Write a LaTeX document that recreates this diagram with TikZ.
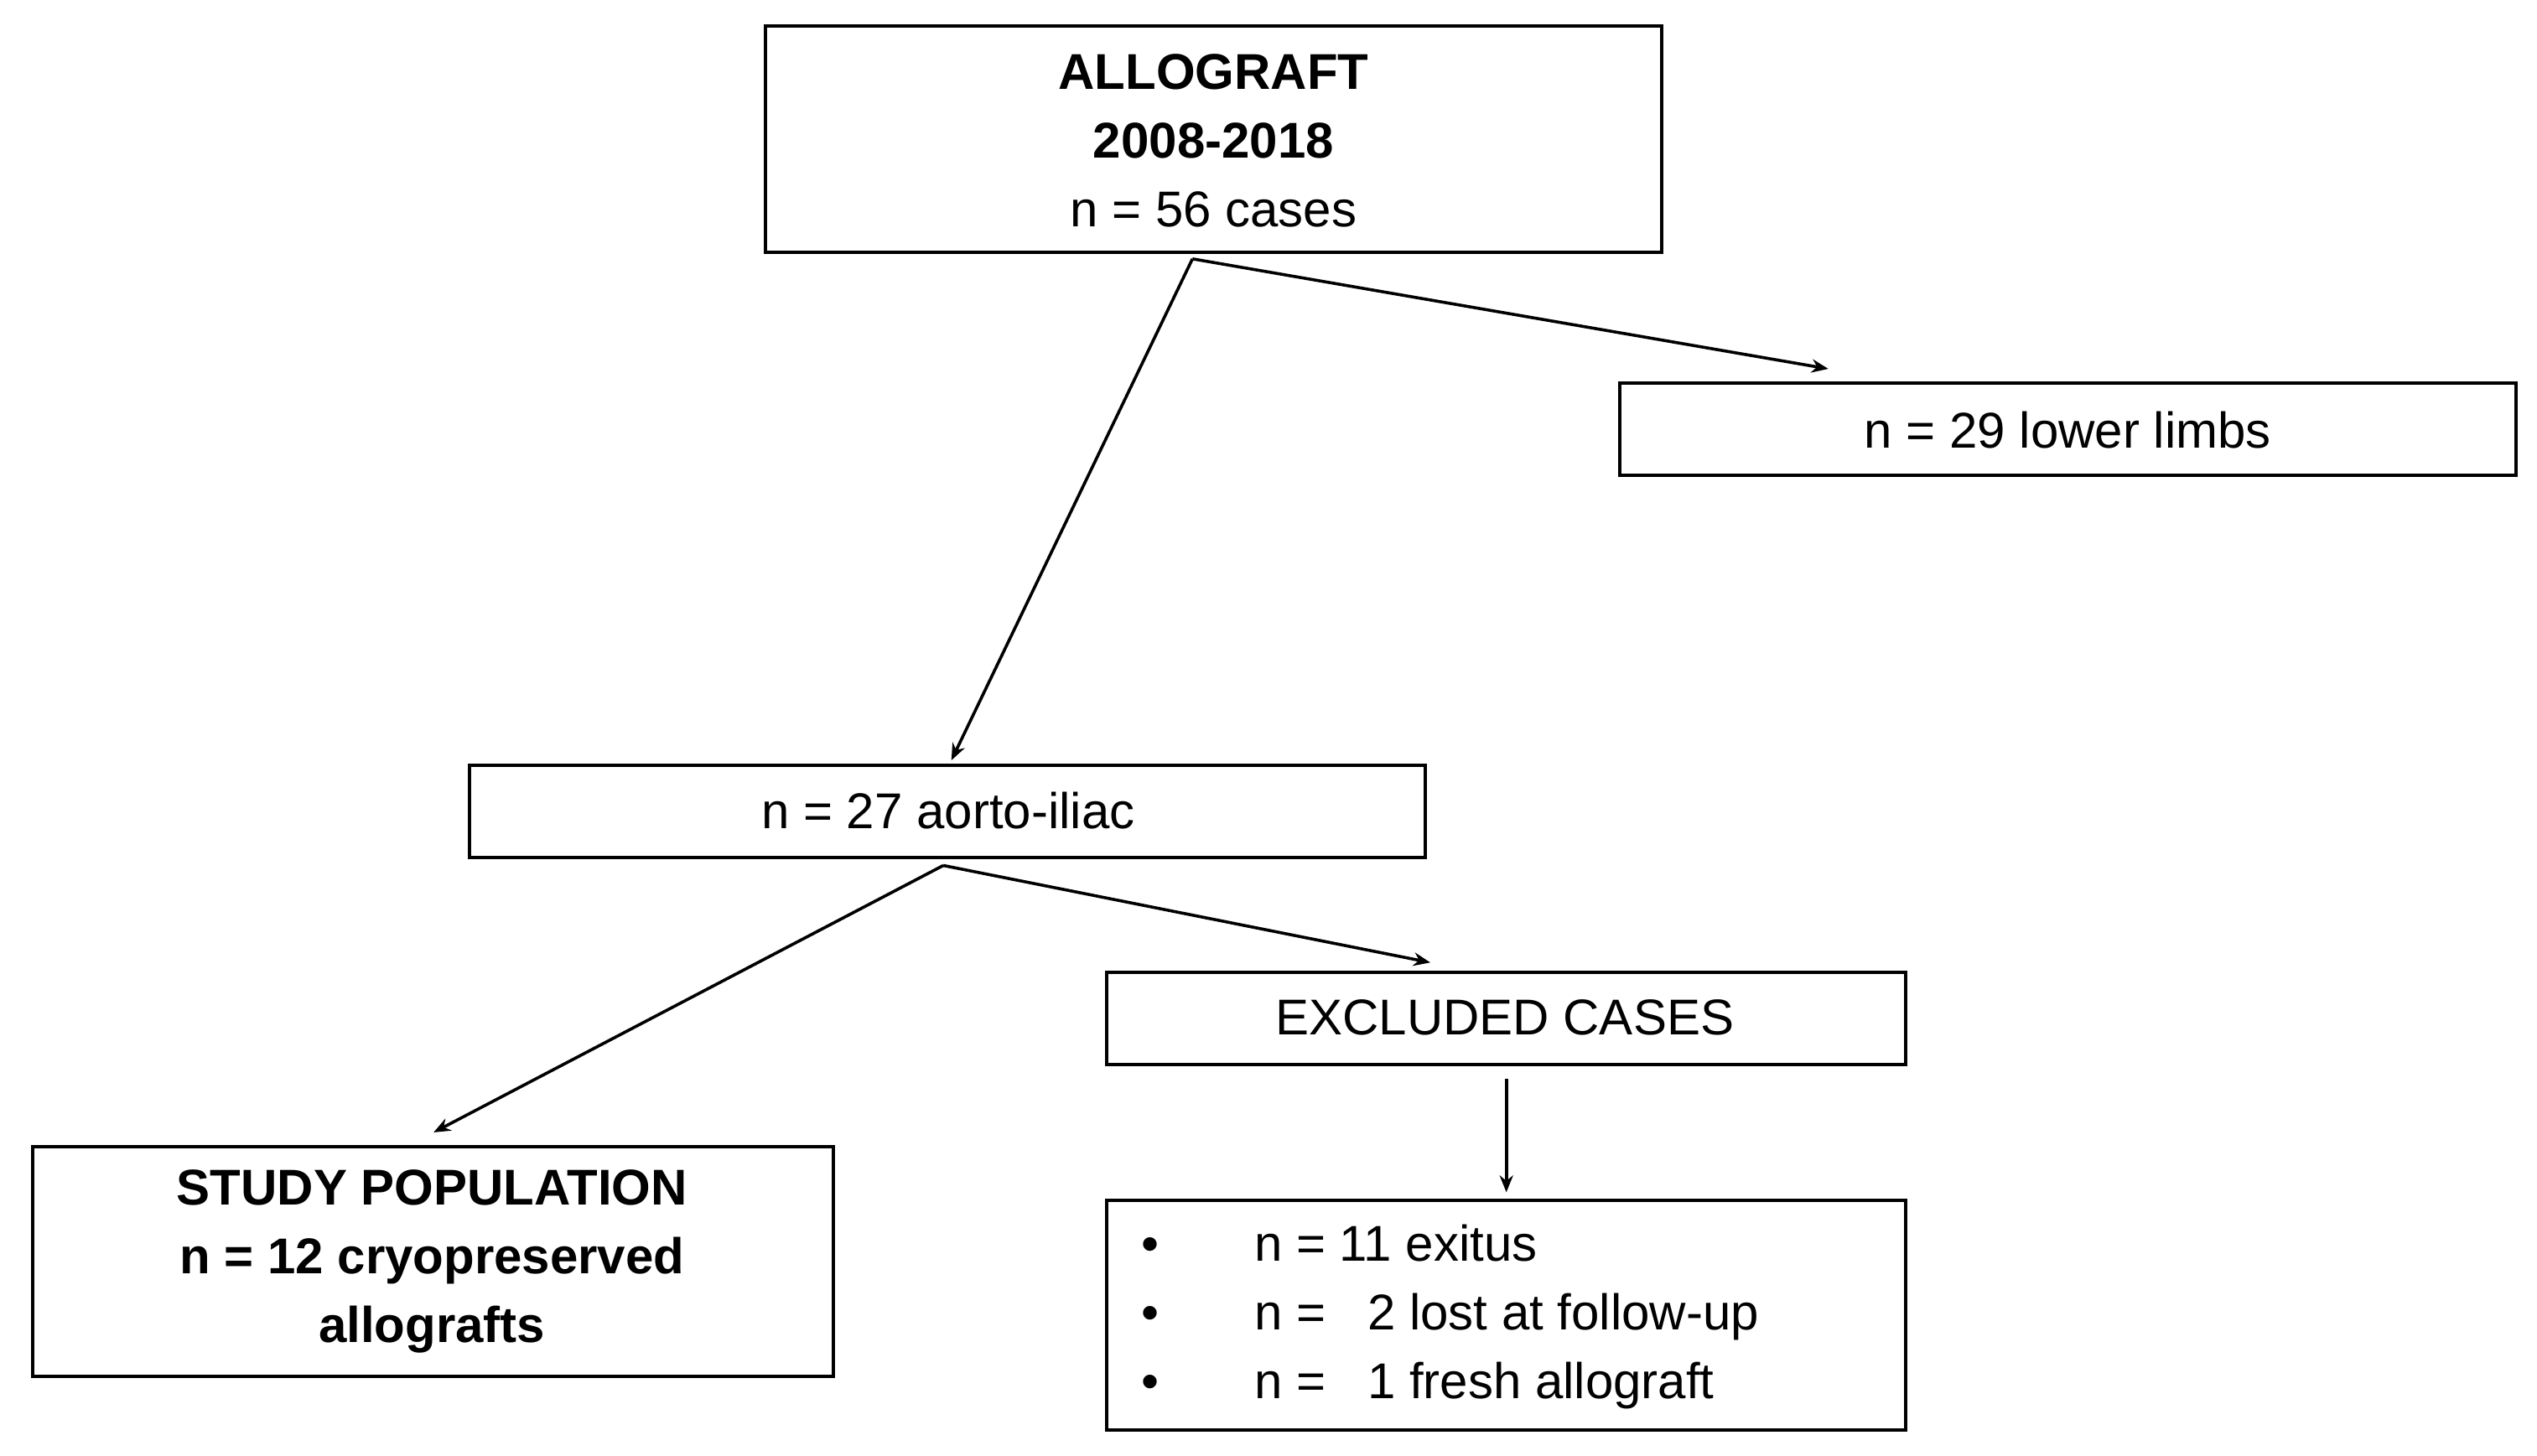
\documentclass[tikz,border=0pt]{standalone}
\usepackage{fontspec}
\setmainfont{Liberation Sans}
\usetikzlibrary{arrows.meta}
\begin{document}
\begin{tikzpicture}[x=0.4825pt,y=-0.4825pt,
  box/.style={draw,line width=1pt,inner sep=0pt},
  txt/.style={font=\fontsize{15}{20.5}\selectfont,align=center},
  arr/.style={-{Stealth[length=5pt,width=4pt]},line width=0.9pt}]
\useasboundingbox (0,0) rectangle (1568,900);
\draw[box] (473,16) rectangle (1027,156);
\node[txt] (top) at (750,87) {\textbf{ALLOGRAFT}\\\textbf{2008-2018}\\n = 56 cases};
\draw[box] (1001,237) rectangle (1555,294);
\node[txt] (low) at (1278,266) {n = 29 lower limbs};
\draw[box] (290,473) rectangle (881,530);
\node[txt] (ai) at (586,501) {n = 27 aorto-iliac};
\draw[box] (684,601) rectangle (1178,658);
\node[txt] (exc) at (930,629) {EXCLUDED CASES};
\draw[box] (20,709) rectangle (515,851);
\node[txt,font=\fontsize{15}{20.5}\selectfont\bfseries] (study) at (267,780) {STUDY POPULATION\\n = 12 cryopreserved\\allografts};
\draw[box] (684,742) rectangle (1178,884);
\node[txt,align=left,anchor=west] (list) at (698,814) {\textbullet\hspace{1.9em}n = 11 exitus\\\textbullet\hspace{1.9em}n = \ \ 2 lost at follow-up\\\textbullet\hspace{1.9em}n = \ \ 1 fresh allograft};
\coordinate (s1) at (737,160);
\coordinate (e1) at (1130,228);
\coordinate (e2) at (588,470);
\coordinate (s2) at (583,535);
\coordinate (e3) at (268,700);
\coordinate (e4) at (884,595);
\coordinate (s3) at (931,667);
\coordinate (e5) at (931,737);
\draw[arr] (s1) -- (e1);
\draw[arr] (s1) -- (e2);
\draw[arr] (s2) -- (e3);
\draw[arr] (s2) -- (e4);
\draw[arr] (s3) -- (e5);
\end{tikzpicture}
\end{document}
